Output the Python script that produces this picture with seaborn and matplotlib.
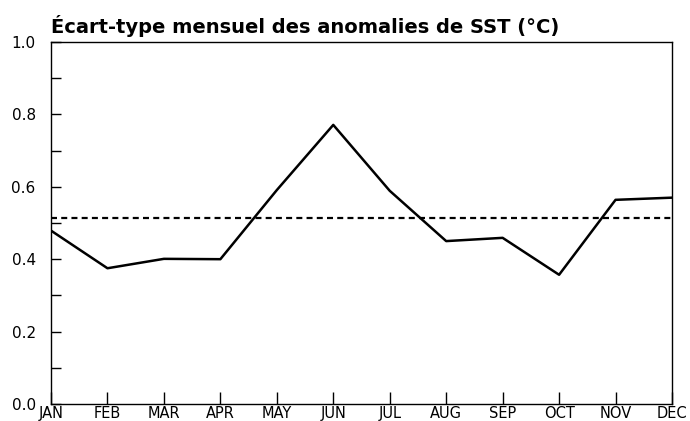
import matplotlib
matplotlib.use("Agg")
import matplotlib.pyplot as plt
from matplotlib.ticker import MultipleLocator
import seaborn as sns
import pandas as pd

months = ["JAN", "FEB", "MAR", "APR", "MAY", "JUN", "JUL", "AUG", "SEP", "OCT", "NOV", "DEC"]
std_values = [0.479, 0.375, 0.401, 0.400, 0.591, 0.771, 0.589, 0.450, 0.459, 0.357, 0.564, 0.570]
annual_mean = 0.513
title = "Écart-type mensuel des anomalies de SST (°C)"

sns.set_theme(style="white")
plt.rcParams["font.family"] = ["DejaVu Sans"]

df = pd.DataFrame({"month": range(len(months)), "std": std_values})

fig = plt.figure(figsize=(6.9, 4.21), dpi=100)
ax = fig.add_axes([51 / 690, 1 - 404 / 421, (672 - 51) / 690, (404 - 42) / 421])

sns.lineplot(data=df, x="month", y="std", ax=ax, color="black", linewidth=1.8, sort=False)
ax.axhline(annual_mean, color="black", linestyle=(0, (2.7, 1.9)), linewidth=1.6)

ax.set_xlim(0, len(months) - 1)
ax.set_ylim(0, 1.0)
ax.set_xticks(range(len(months)))
ax.set_xticklabels(months)
ax.yaxis.set_major_locator(MultipleLocator(0.2))
ax.yaxis.set_minor_locator(MultipleLocator(0.1))
ax.yaxis.set_major_formatter(matplotlib.ticker.FormatStrFormatter("%.1f"))
ax.tick_params(axis="y", which="both", direction="in", length=7.5, width=1, left=True, right=False,
               labelsize=11, pad=11, colors="black")
ax.tick_params(axis="x", which="major", direction="in", length=9, width=1, bottom=True,
               labelsize=10.5, pad=1.5, colors="black")
ax.set_xlabel("")
ax.set_ylabel("")
for s in ax.spines.values():
    s.set_color("black")
    s.set_linewidth(1.0)
    s.set_visible(True)

fig.text(51 / 690, 1 - 33 / 421, title, fontsize=14, fontweight="bold", color="black",
         ha="left", va="baseline")

fig.savefig("out.png", dpi=100)
